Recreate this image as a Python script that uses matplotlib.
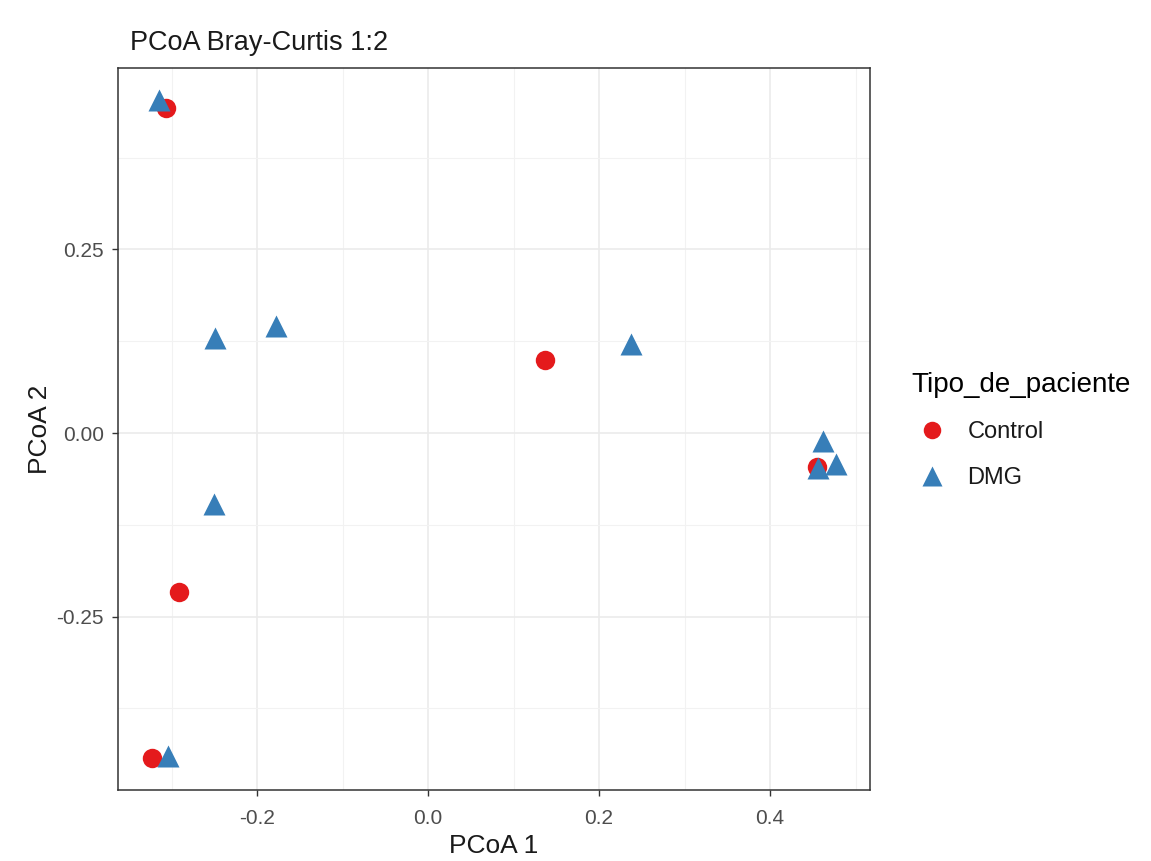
import numpy as np
import matplotlib.pyplot as plt
from matplotlib.ticker import MultipleLocator

plt.rcParams['font.family'] = ['Liberation Sans', 'DejaVu Sans']

# ordination coordinates per group
control_x = [-0.306, 0.137, -0.291, -0.323, 0.455]
control_y = [0.443, 0.0995, -0.217, -0.443, -0.046]
dmg_x = [-0.315, -0.249, -0.178, 0.237, -0.250, -0.304, 0.462, 0.477, 0.456]
dmg_y = [0.454, 0.129, 0.146, 0.121, -0.097, -0.440, -0.011, -0.042, -0.048]

groups = ["Control", "DMG"]
colors = ["#E41A1C", "#377EB8"]

fig = plt.figure(figsize=(11.51, 8.61), dpi=100)
ax = fig.add_axes([0.1025, 0.0825, 0.6534, 0.8385])

ax.plot(control_x, control_y, 'o', ms=14, color=colors[0], mec='none', label=groups[0], zorder=3)
ax.plot(dmg_x, dmg_y, '^', ms=16, color=colors[1], mec='none', label=groups[1], zorder=4)

ax.set_xlim(-0.3626, 0.517)
ax.set_ylim(-0.486, 0.497)
ax.xaxis.set_minor_locator(MultipleLocator(0.1))
ax.yaxis.set_minor_locator(MultipleLocator(0.125))
ax.set_xticks([-0.2, 0.0, 0.2, 0.4])
ax.set_xticklabels(["-0.2", "0.0", "0.2", "0.4"])
ax.set_yticks([-0.25, 0.0, 0.25])
ax.set_yticklabels(["-0.25", "0.00", "0.25"])

ax.grid(which='major', color='#EBEBEB', lw=1.2, zorder=0)
ax.grid(which='minor', color='#F2F2F2', lw=0.8, zorder=0)
ax.set_axisbelow(True)
for s in ax.spines.values():
    s.set_color('#333333')
    s.set_linewidth(1.1)
ax.tick_params(which='major', length=4, width=1, color='#333333', labelcolor='#4D4D4D', labelsize=15)
ax.tick_params(axis='x', pad=10)
ax.tick_params(axis='y', pad=6)
ax.tick_params(which='minor', length=0)

ax.set_xlabel("PCoA 1", fontsize=19, color='#1a1a1a', labelpad=4)
ax.set_ylabel("PCoA 2", fontsize=19, color='#1a1a1a', labelpad=3)
fig.text(0.113, 0.9495, "PCoA Bray-Curtis 1:2", fontsize=19.5, color='#1a1a1a', va='center', ha='left')

leg = ax.legend(loc='upper left', bbox_to_anchor=(0.7816, 0.582), bbox_transform=fig.transFigure,
                frameon=False, title="Tipo_de_paciente", title_fontsize=20, fontsize=17,
                handletextpad=0.6, labelspacing=1.0, borderpad=0, handlelength=1.78, markerscale=0.9)
leg._legend_box.align = 'left'
for t in leg.get_texts():
    t.set_color('#1a1a1a')

fig.savefig("out.png", dpi=100)
